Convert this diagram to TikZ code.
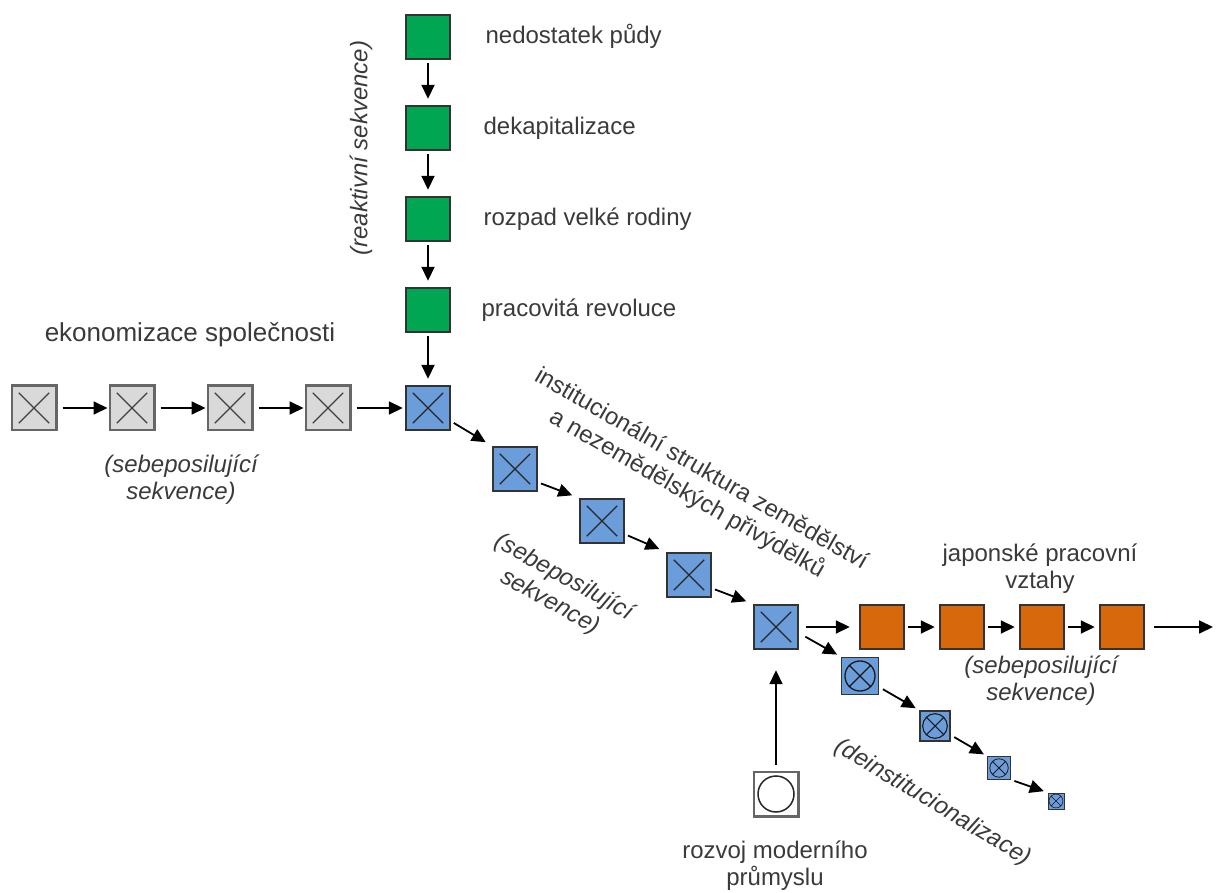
\documentclass[tikz,border=0pt]{standalone}
\usepackage{fontspec}
\setmainfont{Liberation Sans}
\usetikzlibrary{arrows.meta,positioning,calc}
\definecolor{boxGreen}{RGB}{0,166,81}
\definecolor{boxBlue}{RGB}{108,157,219}
\definecolor{boxOrange}{RGB}{216,104,12}
\definecolor{boxGray}{RGB}{217,217,217}
\definecolor{txtGray}{RGB}{58,58,58}
\tikzset{
  box/.style={draw=black!80,line width=1pt,minimum size=22.2pt,inner sep=0pt},
  crossed/.style={path picture={
    \draw[#1,line width=0.55pt]
      ([shift={(3.5pt,-3.5pt)}]path picture bounding box.north west) --
      ([shift={(-3.5pt,3.5pt)}]path picture bounding box.south east)
      ([shift={(-3.5pt,-3.5pt)}]path picture bounding box.north east) --
      ([shift={(3.5pt,3.5pt)}]path picture bounding box.south west);}},
  crossed/.default=black!75,
  arr/.style={-{Triangle[length=7pt,width=6.5pt]},line width=0.9pt},
  lbl/.style={font=\fontsize{12pt}{13.5pt}\selectfont,text=txtGray,inner sep=0pt},
  side/.style={lbl,text height=8.6pt,text depth=2.4pt},
  note/.style={lbl,font=\fontsize{12pt}{13.5pt}\selectfont\itshape,align=center},
  tilted/.style={font=\fontsize{12pt}{14.2pt}\selectfont#1},
  tilted/.default=,
}
\begin{document}
\begin{tikzpicture}[x=0.5pt,y=-0.5pt]
  \useasboundingbox (0,0) rectangle (1222,893);
  % ekonomizace spolecnosti (grey row)
  \foreach \i/\x in {1/34,2/132,3/230,4/328}
    \node[box,fill=boxGray,draw=black!60,line width=1.3pt,crossed] (eko\i) at (\x,408) {};
  \node[lbl,font=\fontsize{13pt}{15pt}\selectfont,anchor=base] (ekoLbl) at (190,342) {ekonomizace společnosti};
  \node[note] (ekoNote) at (181,480) {(sebeposilující\\sekvence)};
  % reaktivni sekvence (green column)
  \foreach \i/\y in {1/37,2/128,3/219,4/310}
    \node[box,fill=boxGreen] (re\i) at (428,\y) {};
  \node[side,right=17pt of re1] (reLbl1) {nedostatek půdy};
  \node[side,right=16pt of re2] (reLbl2) {dekapitalizace};
  \node[side,right=16pt of re3] (reLbl3) {rozpad velké rodiny};
  \node[side,right=15pt of re4] (reLbl4) {pracovitá revoluce};
  \node[note,rotate=90] (reNote) at (361,148) {(reaktivní sekvence)};
  % institucionalni struktura (blue diagonal)
  \foreach \i/\x/\y in {0/428/408,1/515/469,2/602/521,3/689/575,4/776/627}
    \node[box,fill=boxBlue,crossed=black!85] (in\i) at (\x,\y) {};
  \node[lbl,tilted,rotate=-30,align=center] (inLbl) at (694,482)
    {institucionální struktura zemědělství\\a nezemědělských přivýdělků};
  \node[note,tilted=\itshape,rotate=-29] (inNote) at (557,590) {(sebeposilující\\sekvence)};
  % japonske pracovni vztahy (orange row)
  \foreach \i/\x in {1/882,2/962,3/1042,4/1122}
    \node[box,fill=boxOrange] (jp\i) at (\x,627) {};
  \coordinate (jpEnd) at (1213,627);
  \node[lbl,align=center] (jpLbl) at (1040,569) {japonské pracovní\\vztahy};
  \node[note] (jpNote) at (1041,681) {(sebeposilující\\sekvence)};
  % deinstitucionalizace (shrinking boxes)
  \foreach \n/\x/\y/\s in {de1/860/676/39,de2/935/726/32,de3/999/768/24,de4/1056/801/18} {
    \node[box,fill=boxBlue,minimum size=\s*0.5pt-0.9pt,line width=\s/46*1pt] (\n) at (\x,\y) {};
    \draw[black!90,line width=\s/39*0.65pt] (\n.center) circle[radius=\s*0.385]
      (\n.center) ++(45:\s*0.385) -- ++(225:\s*0.77)
      (\n.center) ++(135:\s*0.385) -- ++(-45:\s*0.77);
  }
  \node[note,rotate=-31] (deNote) at (933,803) {(deinstitucionalizace)};
  % rozvoj moderniho prumyslu
  \node[box,fill=white,draw=black!60,line width=1.3pt] (prum) at (776,794) {};
  \draw[black!85,line width=0.75pt] (prum.center) circle[radius=18];
  \node[lbl,align=center] (prumLbl) at (775,866) {rozvoj moderního\\průmyslu};
  % arrows
  \foreach \i/\j in {1/2,2/3,3/4}
    \draw[arr,shorten <=2.5pt,shorten >=0.5pt] (eko\i) -- (eko\j);
  \draw[arr,shorten <=2.5pt,shorten >=1pt] (eko4) -- (in0);
  \foreach \i/\j in {1/2,2/3,3/4}
    \draw[arr,shorten <=1.5pt,shorten >=3pt] (re\i) -- (re\j);
  \draw[arr,shorten <=1.5pt,shorten >=3pt] (re4) -- (in0);
  \foreach \i/\j in {0/1,1/2,2/3,3/4}
    \draw[arr,shorten <=1.5pt,shorten >=3.5pt] (in\i.-30) -- (in\j.north west);
  \draw[arr,shorten <=3.5pt,shorten >=4.5pt] (in4) -- (jp1);
  \draw[arr,shorten <=3.5pt,shorten >=2pt] (in4.-15) -- (de1.north west);
  \foreach \i/\j in {1/2,2/3,3/4}
    \draw[arr,shorten <=1.5pt,shorten >=2pt] (jp\i) -- (jp\j);
  \draw[arr,shorten <=4.5pt] (jp4) -- (jpEnd);
  \draw[arr,shorten <=2pt,shorten >=2pt] (de1.-30) -- (de2.north west);
  \draw[arr,shorten <=2pt,shorten >=2pt] (de2.-30) -- (de3.north west);
  \draw[arr,shorten <=2pt,shorten >=2pt] (de3.-45) -- (de4.north west);
  \draw[arr,shorten <=3pt,shorten >=10pt] (prum) -- (in4);
\end{tikzpicture}
\end{document}
